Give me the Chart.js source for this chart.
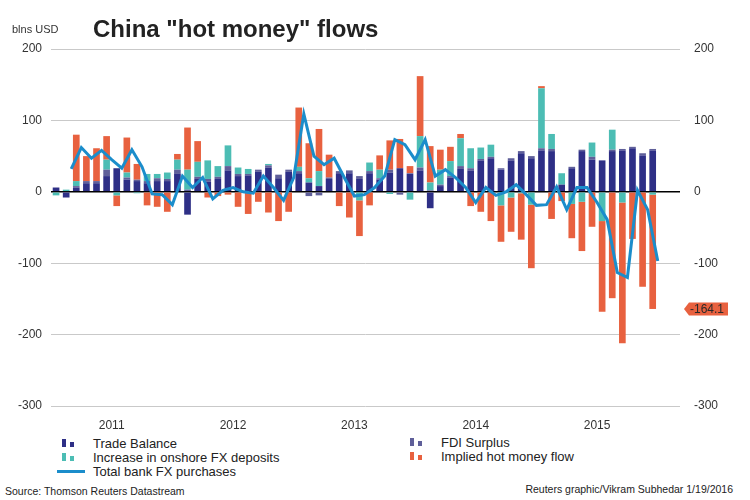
<!DOCTYPE html>
<html lang="en">
<head>
  <meta charset="UTF-8">
  <title>China "hot money" flows</title>
  <script src="https://cdn.jsdelivr.net/npm/chart.js"></script>
  <style>
    body { margin: 0; width: 750px; height: 500px; position: relative; background: #fff; font-family: "Liberation Sans", Arial, sans-serif; color: #222; overflow: hidden; }
    #wrap { position: absolute; left: 0; top: 0; width: 750px; height: 430px; }
    .txt { position: absolute; white-space: nowrap; }
    #title { left: 93px; top: 15px; font-size: 24px; font-weight: bold; color: #222; }
    #unit { left: 12px; top: 23px; font-size: 11px; color: #333; }
    .leg { position: absolute; font-size: 13px; color: #222; height: 15px; line-height: 15px; white-space: nowrap; }
    .ico { position: absolute; left: 0; top: 3px; width: 3.5px; height: 8px; }
    .ico2 { left: 8px; top: 6px; height: 5px; }
    .lineico { position: absolute; left: -5px; top: 6px; width: 28px; height: 2.5px; background: #1b8dcb; }
    .leg span.t { position: absolute; left: 31px; top: 0; }
    .foot { position: absolute; font-size: 10.5px; color: #222; top: 485px; }
  </style>
</head>
<body>
  <div id="wrap"><canvas id="grafico"></canvas></div>
  <div class="txt" id="unit">blns USD</div>
  <div class="txt" id="title">China "hot money" flows</div>

  <div class="leg" style="left:62px; top:436px;"><div class="ico" style="background:#2e2f86"></div><div class="ico ico2" style="background:#2e2f86"></div><span class="t">Trade Balance</span></div>
  <div class="leg" style="left:62px; top:450px;"><div class="ico" style="background:#4cbdb4"></div><div class="ico ico2" style="background:#4cbdb4"></div><span class="t">Increase in onshore FX deposits</span></div>
  <div class="leg" style="left:62px; top:464px;"><div class="lineico"></div><span class="t">Total bank FX purchases</span></div>
  <div class="leg" style="left:410px; top:435px;"><div class="ico" style="background:#5f5f99"></div><div class="ico ico2" style="background:#5f5f99"></div><span class="t">FDI Surplus</span></div>
  <div class="leg" style="left:410px; top:449px;"><div class="ico" style="background:#e8613f"></div><div class="ico ico2" style="background:#e8613f"></div><span class="t">Implied hot money flow</span></div>

  <div class="foot" style="left:5px;">Source: Thomson Reuters Datastream</div>
  <div class="foot" style="right:17px; top:483px;">Reuters graphic/Vikram Subhedar 1/19/2016</div>

  <script>
    // Años del eje x (etiqueta centrada en cada año)
    const years = ['2011', '2012', '2013', '2014', '2015'];
    const yTicks = [200, 100, 0, -100, -200, -300];

    // Meses Ene 2011 - Dic 2015 (una barra por mes)
    const months = [];
    years.forEach(y => { for (let m = 1; m <= 12; m++) months.push(y + '-' + String(m).padStart(2, '0')); });

    // Componentes mensuales, miles de millones USD
    const tradeBalance = [
      6, -8, 6, 12, 12, 22, 33, 17, 15, 12, 15, 15,
      25, -32, 18, 14, 18, 30, 22, 23, 28, 34, 19, 28,
      26, 13, 8, 18, 26, 26, 18, 26, 17, 27, 33, 25,
      30, -23, 8, 20, 32, 30, 44, 47, 31, 44, 54, 47,
      58, 57, 10, 33, 57, 45, 44, 57, 58, 61, 51, 58
    ];
    const fdiSurplus = [
      0, 0, 2, 3, 3, 9, 0, 3, 2, 3, 4, 3,
      6, 3, 3, 4, 3, 6, 3, 2, 3, 3, 5, 3,
      3, -6, -5, 2, 3, 4, 4, 3, 2, 4, -4, 1,
      4, 2, 2, 2, 4, 3, 2, 2, 2, 3, 3, 3,
      3, 3, 0, 2, 2, 4, 0, 2, 2, 2, 3, 2
    ];
    const fxDeposits = [
      -5, 3, 7, 0, 0, 14, -5, 7, -2, 10, 6, 9,
      14, 28, 21, 26, 15, 29, 9, 7, 0, 2, 0, 0,
      6, 6, 21, 0, 0, 0, -12, 12, 12, -3, 0, -11,
      44, 11, 21, 21, 39, 28, 16, 17, -19, -8, -2, -18,
      84, 21, 16, -17, -14, 20, -41, 28, -15, 0, 0, -4
    ];
    const hotMoney = [
      0, 0, 65, 35, 46, 33, -15, 49, 22, -19, -21, -28,
      8, 59, 29, -8, -6, -4, -21, -31, -14, -29, -41, -28,
      83, 49, 59, 32, -20, -36, -50, -19, 20, 41, 41, 10,
      84, 51, 28, 20, 6, -20, -28, -41, -51, -48, -65, -89,
      3, -38, -13, -48, -69, -49, -127, -149, -197, -66, -133, -160.1
    ];
    // Compras netas de divisas del sistema bancario (Feb 2011 - Dic 2015)
    const bankFxPurchases = [
      32, 62, 47, 58, 45, 33, 59, 35, -3, -4, -18,
      22, 6, 20, -10, 2, 6, 0, -2, 22, 6, -12,
      20, 109, 50, 38, 47, 20, -6, -4, 6, 22, 73,
      66, 45, 73, 22, 31, 20, 6, -15, 6, -5, 0,
      10, -4, -19, -18, 7, -25, 6, 6, -15, -39, -113,
      -120, 2, -25, -97
    ];
    const calloutValue = -164.1;

    const firstLineMonth = months.length - bankFxPurchases.length;

    const barSet = (label, values, color) => ({
      type: 'bar',
      label: label,
      data: values.map((v, i) => ({ x: i, y: v })),
      backgroundColor: color,
      stack: 'flujos',
      order: 2,
      barPercentage: 0.66,
      categoryPercentage: 1
    });

    // Etiqueta naranja a la derecha
    const calloutPlugin = {
      id: 'callout',
      afterDraw(chart) {
        const c = chart.ctx;
        const y = chart.scales.y.getPixelForValue(calloutValue);
        const x0 = chart.chartArea.right + 9;
        c.save();
        c.fillStyle = '#e8613f';
        c.beginPath();
        c.moveTo(x0 - 5, y);
        c.lineTo(x0, y - 6.5);
        c.lineTo(x0 + 39, y - 6.5);
        c.lineTo(x0 + 39, y + 6.5);
        c.lineTo(x0, y + 6.5);
        c.closePath();
        c.fill();
        c.fillStyle = '#2a2a2a';
        c.font = '12px "Liberation Sans", Arial, sans-serif';
        c.textBaseline = 'middle';
        c.fillText(String(calloutValue), x0 + 1, y + 1);
        c.restore();
      }
    };

    const ctx = document.getElementById('grafico').getContext('2d');
    new Chart(ctx, {
      data: {
        datasets: [
          barSet('Trade Balance', tradeBalance, '#2e2f86'),
          barSet('FDI Surplus', fdiSurplus, '#5f5f99'),
          barSet('Increase in onshore FX deposits', fxDeposits, '#4cbdb4'),
          barSet('Implied hot money flow', hotMoney, '#e8613f'),
          {
            type: 'line',
            label: 'Total bank FX purchases',
            data: bankFxPurchases.map((v, i) => ({ x: firstLineMonth + i + 0.5, y: v })),
            borderColor: '#1b8dcb',
            borderWidth: 3,
            pointRadius: 0,
            tension: 0,
            fill: false,
            stack: 'total',
            order: 0
          }
        ]
      },
      options: {
        responsive: true,
        maintainAspectRatio: false,
        animation: false,
        layout: { padding: { top: 49, left: 0, right: 0, bottom: 0 } },
        plugins: { legend: { display: false }, tooltip: { enabled: false } },
        scales: {
          x: {
            type: 'linear',
            offset: false,
            min: -0.5,
            max: 61.7,
            grid: { display: false },
            border: { display: false },
            afterBuildTicks: s => { s.ticks = years.map((y, k) => ({ value: 5.5 + 12 * k })); },
            afterFit: s => { s.height = 24; },
            ticks: {
              autoSkip: false,
              maxRotation: 0,
              padding: 4,
              color: '#333',
              font: { family: '"Liberation Sans", Arial, sans-serif', size: 12 },
              callback: v => years[Math.round((v - 5.5) / 12)]
            }
          },
          y: {
            stacked: true,
            min: -300,
            max: 200,
            afterBuildTicks: s => { s.ticks = yTicks.map(v => ({ value: v })); },
            afterFit: s => { s.width = 51; },
            border: { display: false },
            grid: {
              drawTicks: false,
              color: c => c.tick.value === 0 ? '#000' : '#c9c9c9',
              lineWidth: c => c.tick.value === 0 ? 1.5 : 1
            },
            ticks: {
              padding: 9,
              color: '#333',
              font: { family: '"Liberation Sans", Arial, sans-serif', size: 12 }
            }
          },
          y2: {
            position: 'right',
            min: -300,
            max: 200,
            afterBuildTicks: s => { s.ticks = yTicks.map(v => ({ value: v })); },
            afterFit: s => { s.width = 70; },
            border: { display: false },
            grid: { display: false },
            ticks: {
              padding: 6,
              color: '#333',
              font: { family: '"Liberation Sans", Arial, sans-serif', size: 12 }
            }
          }
        }
      },
      plugins: [calloutPlugin]
    });
  </script>
</body>
</html>
